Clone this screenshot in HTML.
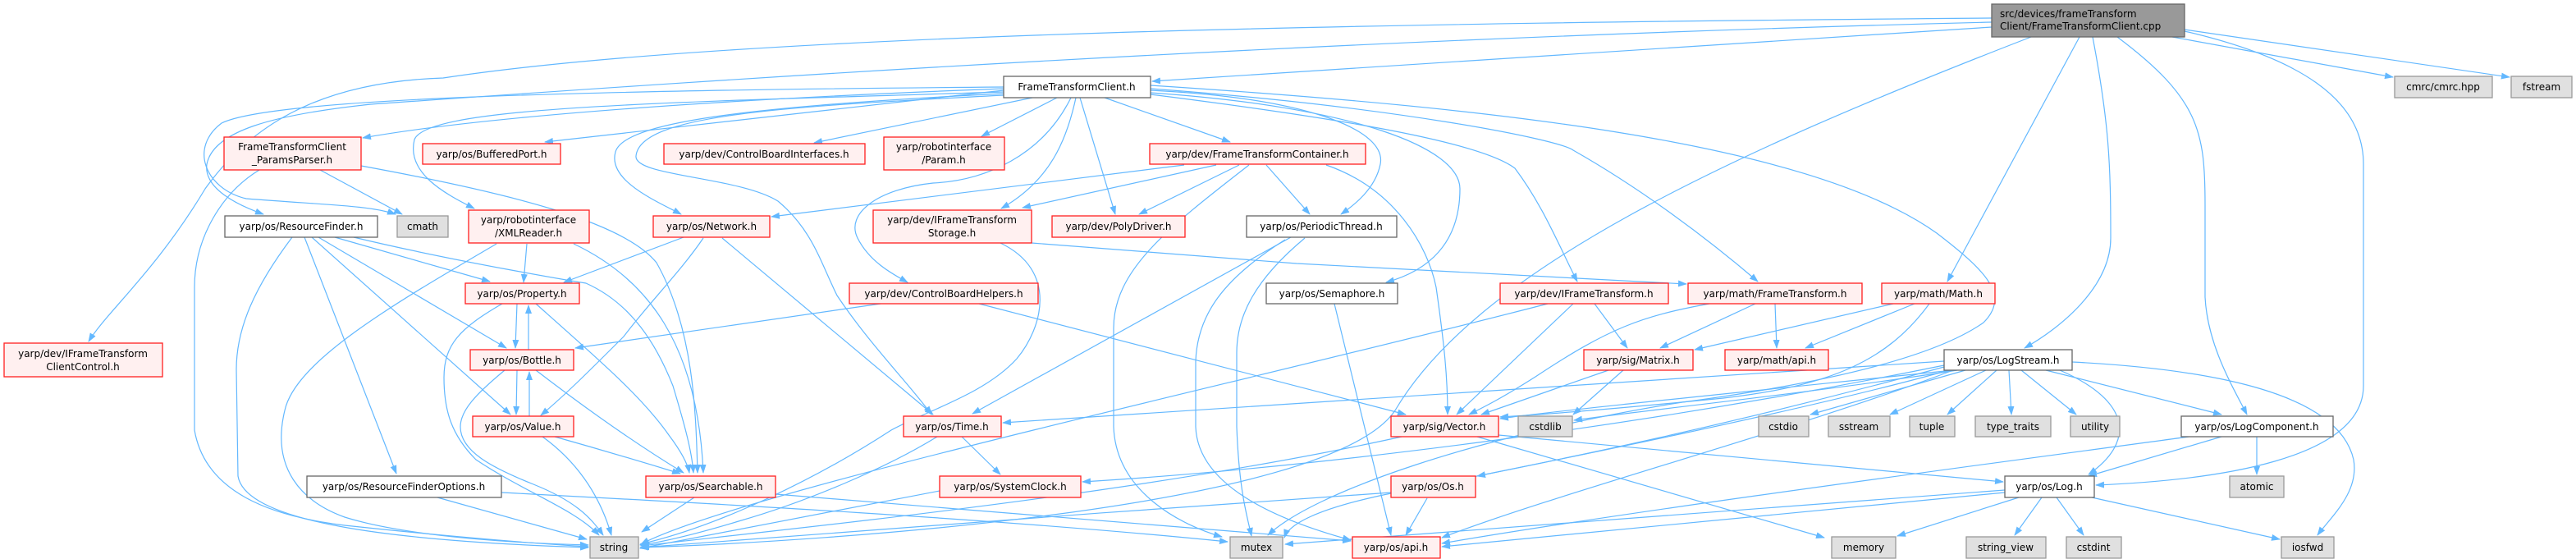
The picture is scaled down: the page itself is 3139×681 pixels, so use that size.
<!DOCTYPE html>
<html><head><meta charset="utf-8"><style>
html,body{margin:0;padding:0;background:#fff;width:3139px;height:681px;overflow:hidden}
svg{display:block}
text{font-family:"DejaVu Sans","Liberation Sans",sans-serif;font-size:12px;fill:#000}
.e{fill:none;stroke:#63b8ff;stroke-width:1.2}
.r{fill:#fff0f0;stroke:#ff2020;stroke-width:1.3}
.g{fill:#e0e0e0;stroke:#999;stroke-width:1.3}
.w{fill:#fff;stroke:#666;stroke-width:1.3}
.t{fill:#999;stroke:#666;stroke-width:1.3}
</style></head><body>
<svg width="3139" height="681" viewBox="0 0 3139 681" xmlns="http://www.w3.org/2000/svg">
<defs><marker id="a" markerWidth="11" markerHeight="8" refX="10" refY="4" orient="auto" markerUnits="userSpaceOnUse"><path d="M0,0 L11,4 L0,8 z" fill="#63b8ff"/></marker></defs>
<g class="e" marker-end="url(#a)">
<!-- from title -->
<path d="M2427,33 L1404,99"/>
<path d="M2427,22 C1700,28 900,40 540,95 C380,100 300,160 250,230 C190,330 130,380 108,416"/>
<path d="M2427,27 C1500,50 700,110 452,127 C330,140 260,160 252,200 C248,230 290,250 321,261"/>
<path d="M2475,45 C2100,190 1800,330 1700,500 C1620,620 1000,660 780,667"/>
<path d="M2534,45 L2373,343"/>
<path d="M2550,45 C2570,150 2572,200 2572,290 C2572,350 2510,400 2467,424"/>
<path d="M2580,45 C2680,120 2687,160 2687,250 L2687,362 C2690,420 2720,470 2738,505"/>
<path d="M2662,38 C2800,70 2880,120 2880,200 L2880,470 C2880,560 2700,585 2554,591"/>
<path d="M2647,45 L2916,94"/>
<path d="M2662,36 L3058,94"/>
<!-- from FrameTransformClient.h -->
<path d="M1223,108 C900,120 600,140 442,168"/>
<path d="M1223,110 L664,173"/>
<path d="M1258,119 L992,174"/>
<path d="M1288,119 L1196,166"/>
<path d="M1223,112 C800,125 520,130 505,170 C495,210 540,235 578,254"/>
<path d="M1223,114 C900,130 760,150 750,185 C740,220 800,245 830,261"/>
<path d="M1223,106 C700,110 330,120 270,150 C230,180 250,230 300,242 C400,250 450,250 482,261"/>
<path d="M1223,116 C950,130 780,140 775,190 C772,215 900,215 948,245 C990,280 1000,320 1020,360 C1060,420 1110,470 1135,505"/>
<path d="M1305,119 C1270,190 1200,220 1137,223 C1070,230 1030,260 1045,290 C1060,320 1090,335 1106,344"/>
<path d="M1311,119 C1300,170 1280,220 1220,254"/>
<path d="M1316,119 L1359,261"/>
<path d="M1346,119 L1499,173"/>
<path d="M1402,110 C1600,120 1690,160 1682,200 C1676,230 1650,250 1634,261"/>
<path d="M1402,113 C1650,130 1779,180 1779,230 C1779,297 1740,330 1689,344"/>
<path d="M1402,115 C1600,140 1800,170 1846,205 C1880,250 1900,300 1922,343"/>
<path d="M1402,108 C1700,130 1900,170 1917,183 C2000,230 2080,290 2142,343"/>
<path d="M1402,104 C1800,130 2200,170 2360,284 C2420,330 2450,360 2417,393 C2350,440 2200,470 2050,490 C1800,530 1600,600 1545,652"/>
<!-- FrameTransformContainer -->
<path d="M1443,201 L940,264"/>
<path d="M1482,201 L1246,253"/>
<path d="M1510,201 L1388,261"/>
<path d="M1522,201 C1420,280 1357,330 1357,400 L1357,520 C1360,600 1440,640 1489,654"/>
<path d="M1543,201 L1596,261"/>
<path d="M1616,201 C1700,230 1740,300 1750,350 C1760,420 1764,460 1764,505"/>
<!-- IFrameTransformStorage -->
<path d="M1257,296 L1580,321 L2055,346"/>
<path d="M1219,296 C1290,330 1270,400 1239,437 C1200,480 1130,500 1086,524 C1000,580 880,640 780,663"/>
<!-- Network -->
<path d="M833,289 L687,344"/>
<path d="M857,290 C830,330 790,370 760,410 C720,450 690,480 659,506"/>
<path d="M880,290 L1137,505"/>
<!-- XMLReader -->
<path d="M642,297 L638,344"/>
<path d="M605,297 C480,370 360,440 347,500 C330,570 367,611 420,630 C500,655 640,662 717,664"/>
<path d="M699,297 C790,340 850,420 857,576"/>
<!-- ParamsParser -->
<path d="M390,207 L490,261"/>
<path d="M316,207 C270,235 237,290 237,350 L237,524 C250,600 330,629 420,640 C560,655 650,662 717,666"/>
<path d="M440,202 C620,235 760,270 800,320 C845,400 848,500 850,576"/>
<!-- ResourceFinder -->
<path d="M356,289 C310,350 288,400 288,450 L290,580 C300,640 500,660 717,667"/>
<path d="M371,289 L483,577"/>
<path d="M380,289 L622,505"/>
<path d="M388,289 L617,424"/>
<path d="M408,289 L597,343"/>
<path d="M431,289 C560,320 714,345 714,345 C770,370 800,420 820,470 C835,520 843,550 845,576"/>
<!-- Property -->
<path d="M630,370 L628,424"/>
<path d="M644,426 L644,372"/>
<path d="M612,370 C560,400 541,420 541,460 C541,500 550,530 580,560 C640,600 700,620 730,652"/>
<path d="M653,370 C720,430 780,480 815,530 C830,550 838,565 840,576"/>
<!-- Bottle -->
<path d="M630,451 L629,505"/>
<path d="M645,507 L645,453"/>
<path d="M615,451 C580,480 561,500 561,520 C561,550 600,570 650,590 C700,610 720,630 735,652"/>
<path d="M653,451 C730,510 790,550 833,576"/>
<!-- Value -->
<path d="M661,532 C700,560 730,600 745,652"/>
<path d="M676,532 C740,550 790,565 829,577"/>
<!-- ResourceFinderOptions -->
<path d="M533,606 L715,657"/>
<path d="M611,600 C800,610 1200,630 1496,660"/>
<!-- Searchable -->
<path d="M846,606 L782,648"/>
<path d="M945,602 L1646,659"/>
<!-- Time -->
<path d="M1142,532 C1080,570 984,611 900,635 C850,650 810,660 780,664"/>
<path d="M1172,532 L1219,578"/>
<!-- SystemClock -->
<path d="M1145,598 L780,668"/>
<!-- PeriodicThread -->
<path d="M1573,289 L1185,504"/>
<path d="M1590,290 C1530,340 1507,384 1507,430 L1507,520 C1510,600 1520,630 1525,653"/>
<path d="M1566,292 C1490,340 1459,384 1457,440 L1457,520 C1460,600 1580,640 1646,658"/>
<!-- ControlBoardHelpers -->
<path d="M1073,370 L701,424"/>
<path d="M1193,370 L1713,505"/>
<!-- Semaphore -->
<path d="M1626,370 L1695,652"/>
<!-- IFrameTransform -->
<path d="M1886,370 C1500,470 900,600 781,663"/>
<path d="M1917,370 L1775,505"/>
<path d="M1943,370 L1983,424"/>
<!-- math/FrameTransform -->
<path d="M2083,370 C2000,385 1960,400 1871,459 C1830,485 1810,495 1790,505"/>
<path d="M2139,370 L2023,424"/>
<path d="M2163,370 L2165,424"/>
<!-- Math -->
<path d="M2307,370 L2065,426"/>
<path d="M2333,370 L2200,424"/>
<path d="M2351,370 C2300,440 2230,470 2100,485 C1950,500 1880,505 1828,508"/>
<!-- Matrix -->
<path d="M1960,451 L1805,505"/>
<path d="M1978,451 L1917,505"/>
<!-- Vector -->
<path d="M1708,532 C1400,600 1000,640 781,665"/>
<path d="M1800,532 L2223,655"/>
<path d="M1826,530 L2441,587"/>
<!-- Os -->
<path d="M1695,600 C1400,620 1000,650 781,667"/>
<path d="M1739,607 L1713,652"/>
<!-- LogStream -->
<path d="M2369,440 L1222,515"/>
<path d="M2369,445 C2000,520 1600,570 1319,587"/>
<path d="M2380,451 C2100,480 1900,500 1828,510"/>
<path d="M2385,451 C2200,480 2000,500 1918,512"/>
<path d="M2369,447 C2100,520 1900,560 1800,580"/>
<path d="M2380,451 C2200,520 1900,600 1757,655"/>
<path d="M2375,451 C2200,500 1900,560 1700,600 C1600,620 1570,640 1565,655"/>
<path d="M2395,451 L2206,505"/>
<path d="M2420,451 L2303,505"/>
<path d="M2433,451 L2373,505"/>
<path d="M2448,451 L2451,505"/>
<path d="M2463,451 L2530,505"/>
<path d="M2493,451 L2707,505"/>
<path d="M2510,451 C2600,490 2600,540 2545,578"/>
<path d="M2525,441 C2700,450 2850,480 2868,560 C2875,600 2840,630 2824,652"/>
<!-- LogComponent -->
<path d="M2707,532 L2545,580"/>
<path d="M2750,532 L2750,578"/>
<path d="M2667,532 C2500,555 2000,620 1757,662"/>
<!-- Log -->
<path d="M2488,606 L2455,652"/>
<path d="M2506,606 L2539,652"/>
<path d="M2549,606 L2778,657"/>
<path d="M2443,600 L1757,666"/>
<path d="M2443,597 L1566,663"/>
<path d="M2460,606 L2312,653"/>
</g>
<!-- nodes -->
<g>
<rect class="t" x="2427" y="5" width="235" height="40"/>
<text x="2437" y="21">src/devices/frameTransform</text><text x="2437" y="36">Client/FrameTransformClient.cpp</text>

<rect class="w" x="1223" y="93" width="179" height="26"/><text x="1312" y="110" text-anchor="middle">FrameTransformClient.h</text>
<rect class="g" x="2918" y="93" width="119" height="26"/><text x="2977" y="110" text-anchor="middle">cmrc/cmrc.hpp</text>
<rect class="g" x="3060" y="93" width="74" height="26"/><text x="3097" y="110" text-anchor="middle">fstream</text>

<rect class="r" x="273" y="167" width="167" height="40"/><text x="356" y="183" text-anchor="middle">FrameTransformClient</text><text x="356" y="199" text-anchor="middle">_ParamsParser.h</text>
<rect class="r" x="515" y="175" width="168" height="25"/><text x="599" y="192" text-anchor="middle">yarp/os/BufferedPort.h</text>
<rect class="r" x="809" y="175" width="245" height="25"/><text x="931" y="192" text-anchor="middle">yarp/dev/ControlBoardInterfaces.h</text>
<rect class="r" x="1077" y="167" width="147" height="40"/><text x="1150" y="183" text-anchor="middle">yarp/robotinterface</text><text x="1150" y="199" text-anchor="middle">/Param.h</text>
<rect class="r" x="1401" y="175" width="263" height="25"/><text x="1532" y="192" text-anchor="middle">yarp/dev/FrameTransformContainer.h</text>

<rect class="w" x="274" y="263" width="186" height="26"/><text x="367" y="280" text-anchor="middle">yarp/os/ResourceFinder.h</text>
<rect class="g" x="484" y="263" width="62" height="26"/><text x="515" y="280" text-anchor="middle">cmath</text>
<rect class="r" x="571" y="256" width="147" height="40"/><text x="644" y="272" text-anchor="middle">yarp/robotinterface</text><text x="644" y="288" text-anchor="middle">/XMLReader.h</text>
<rect class="r" x="796" y="263" width="142" height="26"/><text x="867" y="280" text-anchor="middle">yarp/os/Network.h</text>
<rect class="r" x="1064" y="256" width="193" height="40"/><text x="1160" y="272" text-anchor="middle">yarp/dev/IFrameTransform</text><text x="1160" y="288" text-anchor="middle">Storage.h</text>
<rect class="r" x="1282" y="263" width="162" height="26"/><text x="1363" y="280" text-anchor="middle">yarp/dev/PolyDriver.h</text>
<rect class="w" x="1519" y="263" width="183" height="26"/><text x="1610" y="280" text-anchor="middle">yarp/os/PeriodicThread.h</text>

<rect class="r" x="567" y="345" width="139" height="25"/><text x="636" y="362" text-anchor="middle">yarp/os/Property.h</text>
<rect class="r" x="1035" y="345" width="230" height="25"/><text x="1150" y="362" text-anchor="middle">yarp/dev/ControlBoardHelpers.h</text>
<rect class="w" x="1543" y="345" width="160" height="25"/><text x="1623" y="362" text-anchor="middle">yarp/os/Semaphore.h</text>
<rect class="r" x="1828" y="345" width="205" height="25"/><text x="1930" y="362" text-anchor="middle">yarp/dev/IFrameTransform.h</text>
<rect class="r" x="2057" y="345" width="212" height="25"/><text x="2163" y="362" text-anchor="middle">yarp/math/FrameTransform.h</text>
<rect class="r" x="2293" y="345" width="138" height="25"/><text x="2362" y="362" text-anchor="middle">yarp/math/Math.h</text>

<rect class="r" x="5" y="418" width="193" height="41"/><text x="101" y="435" text-anchor="middle">yarp/dev/IFrameTransform</text><text x="101" y="451" text-anchor="middle">ClientControl.h</text>
<rect class="r" x="573" y="426" width="126" height="25"/><text x="636" y="443" text-anchor="middle">yarp/os/Bottle.h</text>
<rect class="r" x="1930" y="426" width="133" height="25"/><text x="1996" y="443" text-anchor="middle">yarp/sig/Matrix.h</text>
<rect class="r" x="2102" y="426" width="126" height="25"/><text x="2165" y="443" text-anchor="middle">yarp/math/api.h</text>
<rect class="w" x="2369" y="426" width="156" height="25"/><text x="2447" y="443" text-anchor="middle">yarp/os/LogStream.h</text>

<rect class="r" x="576" y="507" width="123" height="25"/><text x="637" y="524" text-anchor="middle">yarp/os/Value.h</text>
<rect class="r" x="1101" y="507" width="119" height="25"/><text x="1160" y="524" text-anchor="middle">yarp/os/Time.h</text>
<rect class="r" x="1695" y="507" width="131" height="25"/><text x="1760" y="524" text-anchor="middle">yarp/sig/Vector.h</text>
<rect class="g" x="1850" y="507" width="66" height="25"/><text x="1883" y="524" text-anchor="middle">cstdlib</text>
<rect class="g" x="2143" y="507" width="61" height="25"/><text x="2173" y="524" text-anchor="middle">cstdio</text>
<rect class="g" x="2228" y="507" width="75" height="25"/><text x="2265" y="524" text-anchor="middle">sstream</text>
<rect class="g" x="2327" y="507" width="55" height="25"/><text x="2354" y="524" text-anchor="middle">tuple</text>
<rect class="g" x="2407" y="507" width="92" height="25"/><text x="2453" y="524" text-anchor="middle">type_traits</text>
<rect class="g" x="2523" y="507" width="60" height="25"/><text x="2553" y="524" text-anchor="middle">utility</text>
<rect class="w" x="2658" y="507" width="185" height="25"/><text x="2750" y="524" text-anchor="middle">yarp/os/LogComponent.h</text>

<rect class="w" x="374" y="580" width="237" height="26"/><text x="492" y="597" text-anchor="middle">yarp/os/ResourceFinderOptions.h</text>
<rect class="r" x="787" y="580" width="158" height="26"/><text x="866" y="597" text-anchor="middle">yarp/os/Searchable.h</text>
<rect class="r" x="1145" y="580" width="172" height="26"/><text x="1231" y="597" text-anchor="middle">yarp/os/SystemClock.h</text>
<rect class="r" x="1695" y="580" width="103" height="26"/><text x="1746" y="597" text-anchor="middle">yarp/os/Os.h</text>
<rect class="w" x="2443" y="580" width="109" height="26"/><text x="2497" y="597" text-anchor="middle">yarp/os/Log.h</text>
<rect class="g" x="2717" y="580" width="66" height="26"/><text x="2750" y="597" text-anchor="middle">atomic</text>

<rect class="g" x="719" y="654" width="59" height="26"/><text x="748" y="671" text-anchor="middle">string</text>
<rect class="g" x="1499" y="654" width="64" height="26"/><text x="1531" y="671" text-anchor="middle">mutex</text>
<rect class="r" x="1648" y="654" width="107" height="26"/><text x="1701" y="671" text-anchor="middle">yarp/os/api.h</text>
<rect class="g" x="2232" y="654" width="78" height="26"/><text x="2271" y="671" text-anchor="middle">memory</text>
<rect class="g" x="2396" y="654" width="97" height="26"/><text x="2444" y="671" text-anchor="middle">string_view</text>
<rect class="g" x="2518" y="654" width="67" height="26"/><text x="2551" y="671" text-anchor="middle">cstdint</text>
<rect class="g" x="2780" y="654" width="64" height="26"/><text x="2812" y="671" text-anchor="middle">iosfwd</text>
</g>
</svg>
</body></html>
